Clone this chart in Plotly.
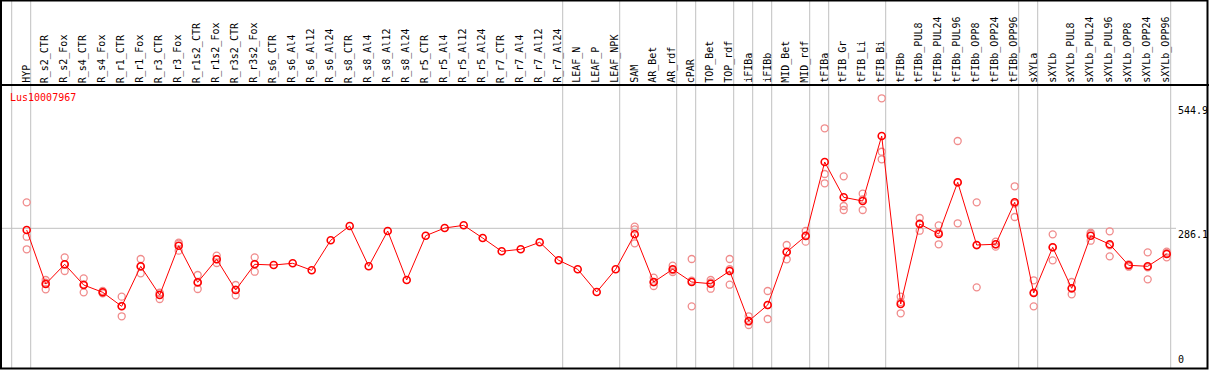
import plotly.graph_objects as go

W, H = 1209, 370

categories = ["HYP", "R_s2_CTR", "R_s2_Fox", "R_s4_CTR", "R_s4_Fox", "R_r1_CTR", "R_r1_Fox",
              "R_r3_CTR", "R_r3_Fox", "R_r1s2_CTR", "R_r1s2_Fox", "R_r3s2_CTR", "R_r3s2_Fox",
              "R_s6_CTR", "R_s6_Al4", "R_s6_Al12", "R_s6_Al24", "R_s8_CTR", "R_s8_Al4",
              "R_s8_Al12", "R_s8_Al24", "R_r5_CTR", "R_r5_Al4", "R_r5_Al12", "R_r5_Al24",
              "R_r7_CTR", "R_r7_Al4", "R_r7_Al12", "R_r7_Al24", "LEAF_N", "LEAF_P", "LEAF_NPK",
              "SAM", "AR_Bet", "AR_rdf", "cPAR", "TOP_Bet", "TOP_rdf", "iFIBa", "iFIBb",
              "MID_Bet", "MID_rdf", "tFIBa", "tFIB_Gr", "tFIB_Li", "tFIB_Bi", "tFIBb",
              "tFIBb_PUL8", "tFIBb_PUL24", "tFIBb_PUL96", "tFIBb_OPP8", "tFIBb_OPP24",
              "tFIBb_OPP96", "sXYLa", "sXYLb", "sXYLb_PUL8", "sXYLb_PUL24", "sXYLb_PUL96",
              "sXYLb_OPP8", "sXYLb_OPP24", "sXYLb_OPP96"]

means = [282.6, 170.4, 211.3, 168.3, 153.1, 124.0, 207.1, 147.5, 250.0, 173.9, 221.7, 157.9, 211.3,
         209.8, 213.4, 198.8, 261.2, 290.9, 207.1, 280.5, 178.7, 270.7, 286.7, 292.3, 265.9,
         238.3, 242.5, 257.0, 219.6, 200.9, 153.7, 200.9, 273.6, 174.5, 200.9, 174.5, 171.0,
         197.4, 93.5, 126.7, 236.9, 270.1, 423.9, 350.5, 342.8, 477.9, 128.8, 295.0, 274.3,
         381.7, 251.4, 252.9, 340.1, 151.7, 246.6, 161.4, 270.7, 252.9, 209.2, 207.1, 232.7]

# replicate values (category name -> list of replicate values)
replicates = {
    "HYP": [340.1, 268.6, 242.5],
    "R_s2_CTR": [178.7, 159.4, 173.0],
    "R_s2_Fox": [225.8, 197.4, 210.7],
    "R_s4_CTR": [182.2, 153.1, 169.6],
    "R_s4_Fox": [155.8, 152.3, 151.2],
    "R_r1_CTR": [144.0, 103.3, 124.7],
    "R_r1_Fox": [222.3, 192.6, 206.4],
    "R_r3_CTR": [151.0, 139.2, 152.3],
    "R_r3_Fox": [256.2, 239.6, 254.2],
    "R_r1s2_CTR": [189.1, 160.0, 172.6],
    "R_r1s2_Fox": [229.2, 214.0, 221.9],
    "R_r3s2_CTR": [168.3, 146.9, 158.5],
    "R_r3s2_Fox": [225.8, 195.9, 212.2],
    "SAM": [289.4, 284.0, 254.9],
    "AR_Bet": [183.5, 166.2, 173.8],
    "AR_rdf": [208.4, 195.3, 199.0],
    "cPAR": [222.3, 124.0, 177.2],
    "TOP_Bet": [178.7, 160.6, 173.7],
    "TOP_rdf": [222.3, 168.9, 201.0],
    "iFIBa": [103.3, 85.2, 92.0],
    "iFIBb": [155.8, 97.7, 126.6],
    "MID_Bet": [251.4, 221.7, 237.6],
    "MID_rdf": [280.5, 258.3, 271.5],
    "tFIBa": [493.9, 398.9, 379.6],
    "tFIB_Gr": [394.1, 332.4, 324.1],
    "tFIB_Li": [358.0, 324.1, 346.3],
    "tFIB_Bi": [556.2, 445.2, 429.5],
    "tFIBb": [144.0, 109.5, 132.9],
    "tFIBb_PUL8": [307.5, 281.1, 296.4],
    "tFIBb_PUL24": [292.3, 252.9, 277.7],
    "tFIBb_PUL96": [467.5, 296.5, 381.1],
    "tFIBb_OPP8": [340.1, 163.5, 250.6],
    "tFIBb_OPP24": [258.3, 247.9, 252.5],
    "tFIBb_OPP96": [373.4, 309.6, 337.3],
    "sXYLa": [178.1, 124.0, 153.0],
    "sXYLb": [273.6, 219.6, 246.6],
    "sXYLb_PUL8": [174.5, 149.0, 160.7],
    "sXYLb_PUL24": [277.0, 260.3, 274.8],
    "sXYLb_PUL96": [279.9, 227.9, 250.9],
    "sXYLb_OPP8": [211.3, 206.3, 210.0],
    "sXYLb_OPP24": [236.2, 180.1, 205.0],
    "sXYLb_OPP96": [237.5, 225.8, 234.8],
}

# indices of last category in each group (boundary after them)
group_ends = [-1, 0, 28, 31, 34, 35, 37, 38, 39, 41, 42, 45, 52, 53, 60]
y_tick_vals = [544.9, 286.1, 0]
y_tick_text = ["544.9", "286.1", "0"]
gene_id = "Lus10007967"

# pixel geometry
x0_px, dx_px = 26.7, 19.0
x_range = [(0 - x0_px) / dx_px, (W - x0_px) / dx_px]
zero_px, px_per_unit = 366.0, 0.4813
y_range = [-(H - zero_px) / px_per_unit, zero_px / px_per_unit]

def py(px):
    return 1 - px / H

def px_x(px):
    return px / W

xi = list(range(len(categories)))

rx, ry = [], []
for i, c in enumerate(categories):
    for v in replicates.get(c, []):
        rx.append(i)
        ry.append(v)

fig = go.Figure()
fig.add_trace(go.Scatter(x=rx, y=ry, mode="markers",
                         marker=dict(symbol="circle-open", size=7, color="#f08c8c",
                                     line=dict(width=1.3, color="#f08c8c")),
                         hoverinfo="skip", showlegend=False))
fig.add_trace(go.Scatter(x=xi, y=means, mode="lines+markers",
                         line=dict(color="#ff0000", width=1),
                         marker=dict(symbol="circle-open", size=7, color="#ff0000",
                                     line=dict(width=1.6, color="#ff0000")),
                         showlegend=False))

shapes = []
# vertical group separators
for g in group_ends:
    shapes.append(dict(type="line", xref="x", yref="paper", x0=g + 0.21, x1=g + 0.21,
                       y0=py(368), y1=1, line=dict(color="#c0c0c0", width=1), layer="below"))
# horizontal gridline
shapes.append(dict(type="line", xref="paper", yref="y", x0=0, x1=px_x(1176),
                   y0=286.1, y1=286.1, line=dict(color="#c0c0c0", width=1), layer="below"))
# header bottom line
shapes.append(dict(type="line", xref="paper", yref="paper", x0=0, x1=1, y0=py(85), y1=py(85),
                   line=dict(color="black", width=2)))
# outer border
shapes.append(dict(type="rect", xref="paper", yref="paper", x0=px_x(1), x1=px_x(1207.5),
                   y0=py(368.5), y1=py(0.5), line=dict(color="black", width=2)))

annotations = []
for i, c in enumerate(categories):
    annotations.append(dict(x=i - 0.05, xref="x", y=py(84), yref="paper", text=c,
                            textangle=-90, xanchor="center", yanchor="bottom",
                            showarrow=False, borderpad=0,
                            font=dict(family="DejaVu Sans Mono", size=10, color="black")))
annotations.append(dict(x=px_x(9), xref="paper", y=py(91), yref="paper", text=gene_id,
                        xanchor="left", yanchor="top", showarrow=False, borderpad=0,
                        font=dict(family="DejaVu Sans Mono", size=10, color="#ff0000")))
for v, t in zip(y_tick_vals, y_tick_text):
    annotations.append(dict(x=px_x(1177), xref="paper", y=v, yref="y", text=t,
                            xanchor="left", yanchor="bottom" if v == 0 else "top",
                            showarrow=False, borderpad=0,
                            font=dict(family="DejaVu Sans Mono", size=10, color="black")))

fig.update_layout(width=W, height=H, margin=dict(l=0, r=0, t=0, b=0),
                  paper_bgcolor="white", plot_bgcolor="white",
                  xaxis=dict(range=x_range, visible=False, fixedrange=True),
                  yaxis=dict(range=y_range, visible=False, fixedrange=True),
                  shapes=shapes, annotations=annotations, showlegend=False)

fig.write_html("out.html", config={"displayModeBar": False},
               post_script="document.body.style.margin='0';document.body.style.overflow='hidden';")
